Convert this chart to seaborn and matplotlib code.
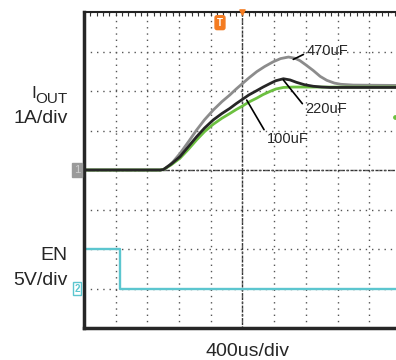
import numpy as np
import pandas as pd
import matplotlib.pyplot as plt
import seaborn as sns

# scope capture: 400us/div, IOUT 1A/div, EN 5V/div
t_470 = [0, 960, 1020, 1120, 1212, 1320, 1420, 1520, 1632, 1740, 1840, 1920, 2000, 2080,
         2180, 2280, 2388, 2480, 2580, 2660, 2724, 2800, 2892, 2980, 3064, 3160, 3240, 3400, 4000]
i_470 = [0, 0, 0.02, 0.2, 0.42, 0.72, 1.01, 1.27, 1.52, 1.73, 1.9, 2.05, 2.19, 2.33,
         2.49, 2.62, 2.74, 2.82, 2.86, 2.83, 2.77, 2.66, 2.52, 2.37, 2.27, 2.2, 2.17, 2.15, 2.14]

t_220 = [0, 960, 1000, 1100, 1212, 1320, 1420, 1520, 1632, 1740, 1840, 1920, 2000, 2080,
         2180, 2260, 2348, 2420, 2516, 2600, 2680, 2780, 2892, 3000, 3104, 4000]
i_220 = [0, 0, 0.01, 0.15, 0.34, 0.6, 0.84, 1.06, 1.27, 1.43, 1.56, 1.68, 1.79, 1.9,
         2.01, 2.1, 2.19, 2.26, 2.31, 2.28, 2.22, 2.16, 2.12, 2.1, 2.09, 2.09]

t_100 = [0, 960, 1000, 1100, 1212, 1320, 1420, 1520, 1632, 1740, 1840, 1920, 2000, 2080,
         2180, 2260, 2348, 2420, 2516, 2640, 4000]
i_100 = [0, 0, 0.01, 0.13, 0.3, 0.53, 0.76, 0.97, 1.16, 1.31, 1.43, 1.53, 1.62, 1.72,
         1.82, 1.91, 1.99, 2.05, 2.09, 2.1, 2.1]

en_t = [0, 456, 4000]
en_v = [5, 0, 0]

iout_zero = 4   # ground reference of ch1, in divisions
en_zero = 1     # ground reference of ch2
trigger_t = 2000

colors = {'470uF': '#8c8c8c', '100uF': '#6cc040', '220uF': '#262626'}
en_color = '#5cc6cf'
W, H = 396, 360

sns.set_style("white")
plt.rcParams['font.family'] = ['Liberation Sans', 'DejaVu Sans']

fig = plt.figure(figsize=(W / 100, H / 100), dpi=100)
rect = [84 / W, 32 / H, 317 / W, 316 / H]

# center cross with ticks
axc = fig.add_axes(rect)
axc.set_xlim(0, 4000)
axc.set_ylim(0, 8)
axc.patch.set_visible(False)
for s in ['top', 'right']:
    axc.spines[s].set_visible(False)
axc.spines['left'].set_position(('data', 2000))
axc.spines['bottom'].set_position(('data', 4))
for s in ['left', 'bottom']:
    axc.spines[s].set_linestyle((0, (1, 2)))
    axc.spines[s].set_linewidth(1)
    axc.spines[s].set_color('#333333')
axc.set_xticks([])
axc.set_yticks([])
axc.set_xticks(np.arange(0, 4001, 80), minor=True)
axc.set_yticks(np.arange(0, 8.01, 0.2), minor=True)
axc.tick_params(which='minor', direction='inout', length=4, width=0.8, color='#333333',
                labelbottom=False, labelleft=False)

ax = fig.add_axes(rect)
ax.patch.set_visible(False)

frames = [pd.DataFrame({'t': t_470, 'A': i_470, 'cap': '470uF'}),
          pd.DataFrame({'t': t_100, 'A': i_100, 'cap': '100uF'}),
          pd.DataFrame({'t': t_220, 'A': i_220, 'cap': '220uF'})]
iout = pd.concat(frames, ignore_index=True)
iout['div'] = iout['A'] / 1.0 + iout_zero

sns.lineplot(data=iout, x='t', y='div', hue='cap', hue_order=['470uF', '100uF', '220uF'],
             palette=colors, estimator=None, sort=False, lw=2.0, legend=False, ax=ax)

en = pd.DataFrame({'t': en_t, 'V': en_v})
en['div'] = en['V'] / 5.0 + en_zero
sns.lineplot(data=en, x='t', y='div', color=en_color, drawstyle='steps-post',
             estimator=None, sort=False, lw=1.7, ax=ax)

ax.set_xlim(0, 4000)
ax.set_ylim(0, 8)
ax.set_xticks(np.arange(0, 4001, 400))
ax.set_yticks(range(0, 9))
ax.set_xticks(np.arange(0, 4001, 80), minor=True)
ax.set_yticks(np.arange(0, 8.01, 0.2), minor=True)
ax.grid(True, which='major', color='#555555', lw=1.0, linestyle=(0, (1, 3.5)))
ax.tick_params(which='both', direction='in', length=3, width=0.8, color='#333333',
               top=True, right=True, labelbottom=False, labelleft=False)
ax.set_xlabel('')
ax.set_ylabel('')
ax.spines['left'].set_linewidth(2.5)
ax.spines['bottom'].set_linewidth(2.5)
ax.spines['right'].set_linewidth(2.5)
ax.spines['top'].set_linewidth(1.5)
ax.spines['top'].set_color('#222222')

# capacitor labels
notes = [('470uF', (2641, 6.80), (2810, 6.91), 0.37),
         ('220uF', (2515, 6.28), (2797, 5.45), 0.57),
         ('100uF', (2053, 5.77), (2313, 4.69), 0.75)]
for label, xy, xytext, ry in notes:
    ax.annotate(label, xy=xy, xytext=xytext, ha='left', va='baseline', fontsize=10.5,
                arrowprops=dict(arrowstyle='-', color='black', lw=1.2, relpos=(0, ry),
                                shrinkA=0, shrinkB=0))

# scope markers
ytr = ax.get_yaxis_transform()
ax.text(-0.022, iout_zero, '1', transform=ytr, ha='center', va='center', fontsize=8,
        color='#cfcfcf', clip_on=False,
        bbox=dict(boxstyle='square,pad=0.2', fc='#9a9a9a', ec='#9a9a9a'))
ax.text(-0.022, en_zero, '2', transform=ytr, ha='center', va='center', fontsize=7,
        color=en_color, fontweight='bold', clip_on=False,
        bbox=dict(boxstyle='square,pad=0.15', fc='white', ec=en_color, lw=1))
ax.text(1716, 7.73, 'T', ha='center', va='center', fontsize=7, color='white',
        fontweight='bold', bbox=dict(boxstyle='round,pad=0.2', fc='#f47b20', ec='#f47b20'))
ax.scatter([trigger_t], [8], marker='v', s=14, color='#f47b20', clip_on=False, zorder=5)
ax.scatter([3924], [iout_zero + 1.34], s=6, color='#6cc040', clip_on=False, zorder=5)

# channel labels
fig.text(36 / W, 1 - 98.5 / H, 'I', ha='right', va='baseline', fontsize=12.5)
fig.text(68 / W, 1 - 102.7 / H, 'OUT', ha='right', va='baseline', fontsize=11)
fig.text(68 / W, 1 - 123.3 / H, '1A/div', ha='right', va='baseline', fontsize=14)
fig.text(67 / W, 1 - 260.5 / H, 'EN', ha='right', va='baseline', fontsize=14)
fig.text(68 / W, 1 - 285 / H, '5V/div', ha='right', va='baseline', fontsize=14)
fig.text(247 / W, 1 - 356.5 / H, '400us/div', ha='center', va='baseline', fontsize=14)

fig.savefig('out.png', dpi=100, facecolor='white')
